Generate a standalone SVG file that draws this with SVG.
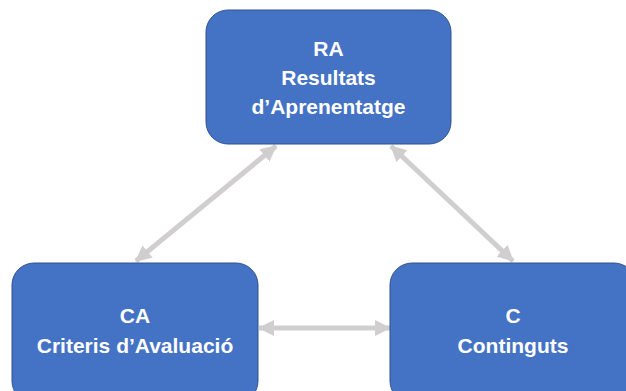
<svg xmlns="http://www.w3.org/2000/svg" width="626" height="391" viewBox="0 0 626 391">
<style>
.box{fill:#4472C4;stroke:#2F528F;stroke-width:1}
.lbl{font-family:"Liberation Sans",Arial,sans-serif;font-weight:bold;font-size:21px;fill:#FFFFFF;text-anchor:middle}
.conn{stroke:#D0CECE;stroke-width:5;fill:none}
</style>
<defs>
<marker id="ah" viewBox="0 0 16 16" refX="15" refY="8" markerWidth="16" markerHeight="16" markerUnits="userSpaceOnUse" orient="auto-start-reverse">
<path d="M0,0 L16,8 L0,16 Z" fill="#D0CECE"/>
</marker>
</defs>
<rect width="626" height="391" fill="#FFFFFF"/>
<g id="connectors">
<line class="conn" x1="276" y1="146" x2="136" y2="261" marker-start="url(#ah)" marker-end="url(#ah)"/>
<line class="conn" x1="391" y1="146" x2="513" y2="261" marker-start="url(#ah)" marker-end="url(#ah)"/>
<line class="conn" x1="259" y1="328" x2="390" y2="328" marker-start="url(#ah)" marker-end="url(#ah)"/>
</g>
<g id="RA">
<rect class="box" x="206" y="10" width="245" height="134" rx="22"/>
<text class="lbl" x="328.5" y="56">RA</text>
<text class="lbl" x="328.5" y="85">Resultats</text>
<text class="lbl" x="328.5" y="114">d’Aprenentatge</text>
</g>
<g id="CA">
<rect class="box" x="12" y="263" width="246" height="140" rx="22"/>
<text class="lbl" x="135" y="323">CA</text>
<text class="lbl" x="135" y="353">Criteris d’Avaluació</text>
</g>
<g id="C">
<rect class="box" x="390" y="263" width="246" height="140" rx="22"/>
<text class="lbl" x="513" y="323">C</text>
<text class="lbl" x="513" y="353">Continguts</text>
</g>
</svg>
